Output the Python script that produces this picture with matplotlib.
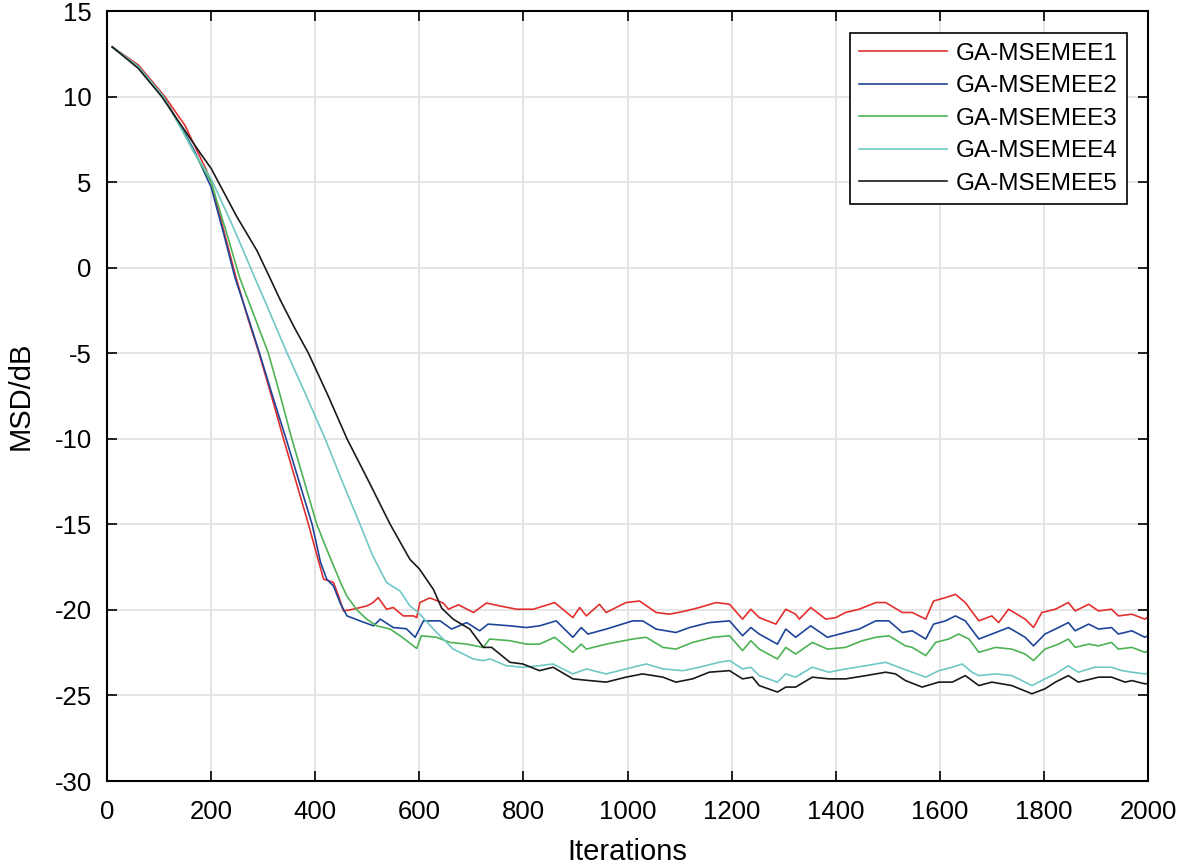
import numpy as np
import matplotlib.pyplot as plt

plt.rcParams['font.family'] = ['Liberation Sans', 'DejaVu Sans']
plt.rcParams['axes.unicode_minus'] = False

# GA-MSEMEE1 (red)
it1 = [10, 60, 111, 150, 175, 191, 200, 224, 248, 270, 292, 315, 339, 365, 387, 405, 416, 426, 435, 445, 454,
       473, 499, 510, 521, 537, 550, 569, 589, 595, 601, 620, 646, 656, 675, 704, 729, 755, 787, 819, 860,
       895, 908, 921, 946, 959, 997, 1023, 1055, 1081, 1112, 1138, 1170, 1196, 1221, 1237, 1253, 1285, 1304,
       1323, 1330, 1352, 1381, 1400, 1419, 1445, 1477, 1496, 1528, 1547, 1573, 1588, 1611, 1630, 1649, 1675,
       1700, 1713, 1732, 1764, 1780, 1796, 1822, 1847, 1860, 1886, 1905, 1930, 1943, 1969, 1994, 2000]
msd1 = [12.9, 11.85, 10.0, 8.3, 6.7, 5.7, 5.0, 2.2, -0.6, -2.9, -5.0, -7.4, -10.0, -12.7, -15.0, -17.0, -18.2,
        -18.3, -18.4, -19.2, -20.06, -19.96, -19.77, -19.6, -19.28, -19.96, -19.86, -20.35, -20.35, -20.45,
        -19.57, -19.3, -19.6, -19.96, -19.7, -20.15, -19.6, -19.77, -19.96, -19.96, -19.57, -20.45, -19.86,
        -20.35, -19.67, -20.15, -19.57, -19.48, -20.15, -20.25, -20.06, -19.86, -19.57, -19.67, -20.54, -19.96,
        -20.45, -20.83, -19.96, -20.25, -20.54, -19.86, -20.54, -20.45, -20.15, -19.96, -19.57, -19.57, -20.15,
        -20.15, -20.54, -19.48, -19.28, -19.09, -19.57, -20.64, -20.35, -20.74, -19.96, -20.54, -21.03, -20.15,
        -19.96, -19.57, -20.06, -19.67, -20.06, -19.96, -20.35, -20.25, -20.54, -20.4]

# GA-MSEMEE2 (blue)
it2 = [10, 60, 108, 145, 170, 200, 224, 246, 270, 293, 318, 344, 370, 394, 410, 422, 435, 448, 461,
       486, 512, 525, 550, 575, 592, 608, 640, 662, 691, 716, 732, 774, 806, 831, 863, 895, 911, 924, 959,
       1010, 1029, 1055, 1093, 1119, 1157, 1196, 1221, 1237, 1253, 1288, 1304, 1323, 1352, 1384, 1419, 1445,
       1477, 1502, 1528, 1547, 1573, 1588, 1611, 1630, 1649, 1675, 1700, 1732, 1764, 1780, 1802, 1828, 1847,
       1860, 1886, 1905, 1930, 1943, 1969, 1994, 2000]
msd2 = [12.9, 11.75, 10.0, 8.1, 6.7, 4.7, 2.0, -0.6, -2.8, -5.0, -7.5, -10.0, -12.6, -15.0, -17.2,
        -18.2, -18.6, -19.6, -20.35, -20.64, -20.93, -20.54, -21.03, -21.1, -21.6, -20.64, -20.64, -21.12,
        -20.74, -21.22, -20.83, -20.93, -21.03, -20.93, -20.64, -21.6, -21.03, -21.41, -21.12, -20.64, -20.64,
        -21.12, -21.32, -21.03, -20.74, -20.64, -21.51, -21.03, -21.41, -22.0, -21.12, -21.6, -20.93, -21.6,
        -21.32, -21.12, -20.64, -20.64, -21.32, -21.22, -21.7, -20.83, -20.64, -20.35, -20.64, -21.7, -21.41,
        -21.03, -21.6, -22.1, -21.41, -21.03, -20.74, -21.22, -20.83, -21.12, -21.03, -21.41, -21.22, -21.6, -21.5]

# GA-MSEMEE3 (green)
it3 = [10, 60, 108, 145, 168, 200, 230, 255, 270, 290, 310, 333, 355, 380, 403, 420, 435, 450, 461, 480,
       499, 518, 544, 563, 580, 595, 604, 633, 659, 691, 723, 735, 774, 806, 831, 860, 895, 911, 921, 959,
       1010, 1036, 1068, 1093, 1125, 1164, 1196, 1221, 1237, 1253, 1288, 1304, 1323, 1355, 1384, 1419, 1451,
       1477, 1502, 1534, 1547, 1573, 1592, 1617, 1636, 1656, 1675, 1707, 1738, 1764, 1780, 1802, 1828, 1847,
       1860, 1886, 1905, 1930, 1943, 1969, 1994, 2000]
msd3 = [12.9, 11.75, 10.0, 8.0, 6.7, 5.0, 2.0, -0.6, -1.8, -3.4, -5.0, -7.5, -10.0, -12.6, -15.0, -16.3,
        -17.4, -18.5, -19.2, -20.0, -20.54, -20.93, -21.12, -21.51, -21.9, -22.25, -21.51, -21.6, -21.9, -22.0,
        -22.19, -21.7, -21.8, -22.0, -22.0, -21.6, -22.48, -22.0, -22.29, -22.0, -21.7, -21.6, -22.19, -22.29,
        -21.9, -21.6, -21.51, -22.38, -21.8, -22.29, -22.87, -22.19, -22.58, -21.9, -22.29, -22.19, -21.8,
        -21.6, -21.51, -22.1, -22.19, -22.67, -21.9, -21.7, -21.41, -21.7, -22.48, -22.19, -22.29, -22.58,
        -22.96, -22.29, -22.0, -21.7, -22.19, -22.0, -22.1, -21.9, -22.29, -22.19, -22.48, -22.4]

# GA-MSEMEE4 (cyan)
it4 = [10, 60, 108, 145, 168, 200, 242, 263, 284, 304, 346, 383, 419, 452, 486, 510, 537, 563, 582, 598,
       627, 665, 704, 723, 736, 767, 799, 831, 857, 895, 921, 959, 1010, 1036, 1068, 1106, 1138, 1176, 1196,
       1221, 1237, 1253, 1288, 1304, 1323, 1355, 1387, 1419, 1458, 1496, 1521, 1547, 1573, 1598, 1624, 1643,
       1662, 1675, 1707, 1738, 1758, 1777, 1802, 1822, 1847, 1866, 1898, 1930, 1950, 1969, 1994, 2000]
msd4 = [12.9, 11.75, 10.0, 8.0, 6.7, 5.2, 2.4, 0.9, -0.6, -2.0, -5.0, -7.5, -10.0, -12.5, -15.0, -16.8,
        -18.4, -18.9, -19.77, -20.15, -21.12, -22.29, -22.87, -22.96, -22.87, -23.26, -23.35, -23.26, -23.16,
        -23.74, -23.45, -23.74, -23.35, -23.16, -23.45, -23.55, -23.35, -23.06, -22.96, -23.45, -23.35, -23.84,
        -24.22, -23.74, -23.93, -23.35, -23.64, -23.45, -23.26, -23.06, -23.35, -23.64, -23.93, -23.55, -23.35,
        -23.16, -23.64, -23.84, -23.74, -23.84, -24.13, -24.42, -24.03, -23.74, -23.26, -23.64, -23.35, -23.35,
        -23.55, -23.64, -23.74, -23.7]

# GA-MSEMEE5 (black)
it5 = [10, 60, 105, 143, 179, 200, 249, 288, 313, 333, 360, 387, 425, 461, 503, 544, 582, 600, 627, 643,
       665, 697, 723, 739, 774, 799, 831, 857, 895, 927, 959, 997, 1029, 1068, 1093, 1125, 1157, 1196, 1221,
       1240, 1253, 1288, 1304, 1323, 1355, 1387, 1419, 1458, 1496, 1515, 1534, 1566, 1598, 1624, 1649, 1675,
       1700, 1738, 1777, 1802, 1822, 1847, 1866, 1905, 1930, 1956, 1969, 1994, 2000]
msd5 = [12.9, 11.65, 10.0, 8.3, 6.7, 5.8, 3.0, 1.0, -0.6, -1.9, -3.5, -5.0, -7.5, -10.0, -12.5, -15.0,
        -17.05, -17.6, -18.8, -19.9, -20.54, -21.12, -22.19, -22.19, -23.06, -23.16, -23.55, -23.35, -24.03,
        -24.13, -24.22, -23.93, -23.74, -23.93, -24.22, -24.03, -23.64, -23.55, -24.03, -23.93, -24.42, -24.8,
        -24.51, -24.51, -23.93, -24.03, -24.03, -23.84, -23.64, -23.74, -24.13, -24.51, -24.22, -24.22, -23.84,
        -24.42, -24.22, -24.42, -24.9, -24.61, -24.22, -23.84, -24.22, -23.93, -23.93, -24.22, -24.13, -24.32,
        -24.3]

labels = ['GA-MSEMEE1', 'GA-MSEMEE2', 'GA-MSEMEE3', 'GA-MSEMEE4', 'GA-MSEMEE5']
colors = ['#e2302f', '#1f4599', '#4db356', '#6fc8c6', '#1a1a1a']

fig = plt.figure(figsize=(11.84, 8.68), dpi=100)
ax = fig.add_axes([0.0904, 0.1002, 0.8792, 0.8871])

series = [(it1, msd1), (it2, msd2), (it3, msd3), (it4, msd4), (it5, msd5)]
for (x, y), lab, c in zip(series, labels, colors):
    ax.plot(x, y, color=c, linewidth=1.2, label=lab)

ax.set_xlim(0, 2000)
ax.set_ylim(-30, 15)
ax.set_xticks(np.arange(0, 2001, 200))
ax.set_yticks(np.arange(-30, 16, 5))
ax.grid(True, color='#e3e3e3', linewidth=1.3)
ax.set_axisbelow(True)
ax.tick_params(direction='in', length=7, width=1.2, top=True, right=True, labelsize=18.5)
ax.tick_params(axis='x', pad=14)
ax.tick_params(axis='y', pad=11)
for s in ax.spines.values():
    s.set_linewidth(1.5)
ax.set_xlabel('Iterations', fontsize=21, labelpad=10)
ax.set_ylabel('MSD/dB', fontsize=21, labelpad=14)

leg = ax.legend(loc='upper right', bbox_to_anchor=(0.9798, 0.9714), borderaxespad=0, fontsize=17.5,
                handlelength=3.6, frameon=True, fancybox=False, framealpha=1, edgecolor='black',
                borderpad=0.4, labelspacing=0.43, handletextpad=0.35)
leg.get_frame().set_linewidth(1.2)

plt.savefig('out.png', dpi=100)
